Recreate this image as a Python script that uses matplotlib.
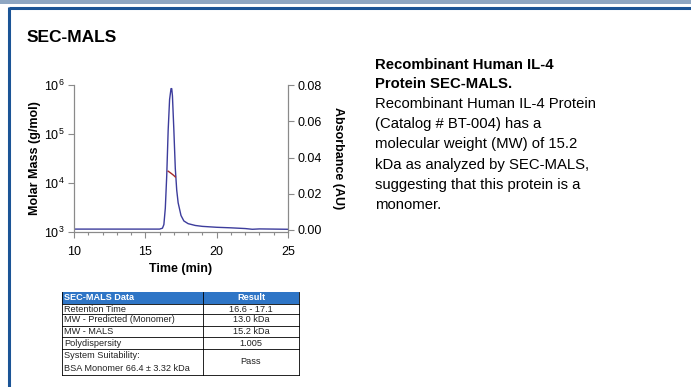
import matplotlib
matplotlib.use('Agg')
import matplotlib.pyplot as plt
from matplotlib.patches import Rectangle
from matplotlib.ticker import MultipleLocator, LogLocator, NullFormatter

plt.rcParams['font.family'] = ['Liberation Sans', 'DejaVu Sans']
plt.rcParams['mathtext.default'] = 'regular'

# UV absorbance trace (AU) vs time (min)
time_uv = [10, 16.0, 16.2, 16.3, 16.4, 16.5, 16.6, 16.7, 16.8, 16.85, 16.9, 17.0, 17.1,
           17.2, 17.3, 17.5, 17.7, 18.0, 18.5, 19, 20, 21, 22, 22.5, 23, 24, 25]
absorb = [0.0005, 0.0005, 0.001, 0.003, 0.012, 0.03, 0.055, 0.072, 0.078, 0.078, 0.074,
          0.055, 0.034, 0.022, 0.015, 0.008, 0.005, 0.0035, 0.0025, 0.002, 0.0015,
          0.0012, 0.0008, 0.0004, 0.0006, 0.0005, 0.0004]

# molar mass across the peak (g/mol)
time_mm = [16.6, 16.7, 16.8, 16.9, 17.0, 17.1]
molar_mass = [17400, 16600, 15800, 15000, 14200, 13300]

# table
tab_header = ['SEC-MALS Data', 'Result']
tab_names = ['Retention Time', 'MW - Predicted (Monomer)', 'MW - MALS', 'Polydispersity',
             'System Suitability:\nBSA Monomer 66.4 \u00b1 3.32 kDa']
tab_values = ['16.6 - 17.1', '13.0 kDa', '15.2 kDa', '1.005', 'Pass']

desc_title = ['Recombinant Human IL-4', 'Protein SEC-MALS.']
desc_body = ['Recombinant Human IL-4 Protein', '(Catalog # BT-004) has a',
             'molecular weight (MW) of 15.2', 'kDa as analyzed by SEC-MALS,',
             'suggesting that this protein is a', 'monomer.']

W, H = 691, 387
fig = plt.figure(figsize=(W / 100, H / 100), dpi=100)

# overlay in pixel coords for frame, text, table
bg = fig.add_axes([0, 0, 1, 1])
bg.set_xlim(0, W)
bg.set_ylim(H, 0)
bg.axis('off')
bg.add_patch(Rectangle((0, 0), W, 3.5, color='#8ea6c2', lw=0))
bg.plot([9, W], [8, 8], color='#1b5496', lw=2.2, solid_capstyle='butt')
bg.plot([9.5, 9.5], [7, H], color='#1b5496', lw=2.2, solid_capstyle='butt')
bg.text(27, 38, 'SEC-MALS', fontsize=12.5, fontweight='bold', va='center', ha='left')

y = 65
for line in desc_title:
    bg.text(375, y, line, fontsize=10.7, fontweight='bold', va='center', ha='left')
    y += 19.5
for line in desc_body:
    bg.text(375, y, line, fontsize=10.7, va='center', ha='left')
    y += 20.2

# table
tx0, tx1, tx2 = 62, 203, 299
rows = [292, 304, 314, 326, 337, 349, 375]
fs = 6.6
bg.add_patch(Rectangle((tx0, rows[0]), tx2 - tx0, rows[1] - rows[0], color='#2e75c6', lw=0))
bg.text(tx0 + 2, (rows[0] + rows[1]) / 2, tab_header[0], fontsize=fs, fontweight='bold',
        color='white', va='center', ha='left')
bg.text((tx1 + tx2) / 2, (rows[0] + rows[1]) / 2, tab_header[1], fontsize=fs,
        fontweight='bold', color='white', va='center', ha='center')
for i in range(len(tab_names)):
    yc = (rows[i + 1] + rows[i + 2]) / 2
    bg.text(tx0 + 2, yc, tab_names[i], fontsize=fs, va='center', ha='left', linespacing=1.5,
            color='#222222')
    bg.text((tx1 + tx2) / 2, yc, tab_values[i], fontsize=fs, va='center', ha='center',
            color='#222222')
for r in rows[1:]:
    bg.plot([tx0, tx2], [r, r], color='black', lw=0.6)
bg.plot([tx0, tx0], [rows[0], rows[-1]], color='black', lw=0.6)
bg.plot([tx2, tx2], [rows[0], rows[-1]], color='black', lw=0.6)
bg.plot([tx1, tx1], [rows[0], rows[-1]], color='black', lw=0.6)

# chart
ax = fig.add_axes([74 / W, 1 - 232 / H, 214 / W, 147 / H])
ax2 = ax.twinx()
ax.set_zorder(2)
ax.patch.set_visible(False)

ax2.plot(time_uv, absorb, color='#3c3c9c', lw=1)
ax.plot(time_mm, molar_mass, color='#a52a2a', lw=1)

ax.set_yscale('log')
ax.set_ylim(1e3, 1e6)
ax.set_xlim(10, 25)
ax2.set_ylim(-0.08 * 2 / 145, 0.08)
ax.set_yticks([1e3, 1e4, 1e5, 1e6])
ax.set_yticklabels(['$10^{3}$', '$10^{4}$', '$10^{5}$', '$10^{6}$'])
ax.yaxis.set_minor_locator(LogLocator(subs=[]))
ax.yaxis.set_minor_formatter(NullFormatter())
ax.set_xticks([10, 15, 20, 25])
ax.xaxis.set_minor_locator(MultipleLocator(1))
ax2.set_yticks([0, 0.02, 0.04, 0.06, 0.08])
ax2.set_yticklabels(['0.00', '0.02', '0.04', '0.06', '0.08'])

for a in (ax, ax2):
    a.spines['top'].set_visible(False)
    for s in a.spines.values():
        s.set_color('#8a8a8a')
        s.set_linewidth(0.8)
    a.tick_params(which='both', color='#8a8a8a', labelsize=9, width=0.8, pad=3)
    a.tick_params(which='major', length=4)
    a.tick_params(which='minor', length=2.5)
ax.tick_params(axis='x', pad=6)

ax.set_xlabel('Time (min)', fontsize=9, fontweight='bold', labelpad=4)
ax.set_ylabel('Molar Mass (g/mol)', fontsize=9, fontweight='bold', labelpad=2)
ax2.set_ylabel('Absorbance (AU)', fontsize=9, fontweight='bold', rotation=-90, labelpad=16)

fig.savefig('out.png', dpi=100)
